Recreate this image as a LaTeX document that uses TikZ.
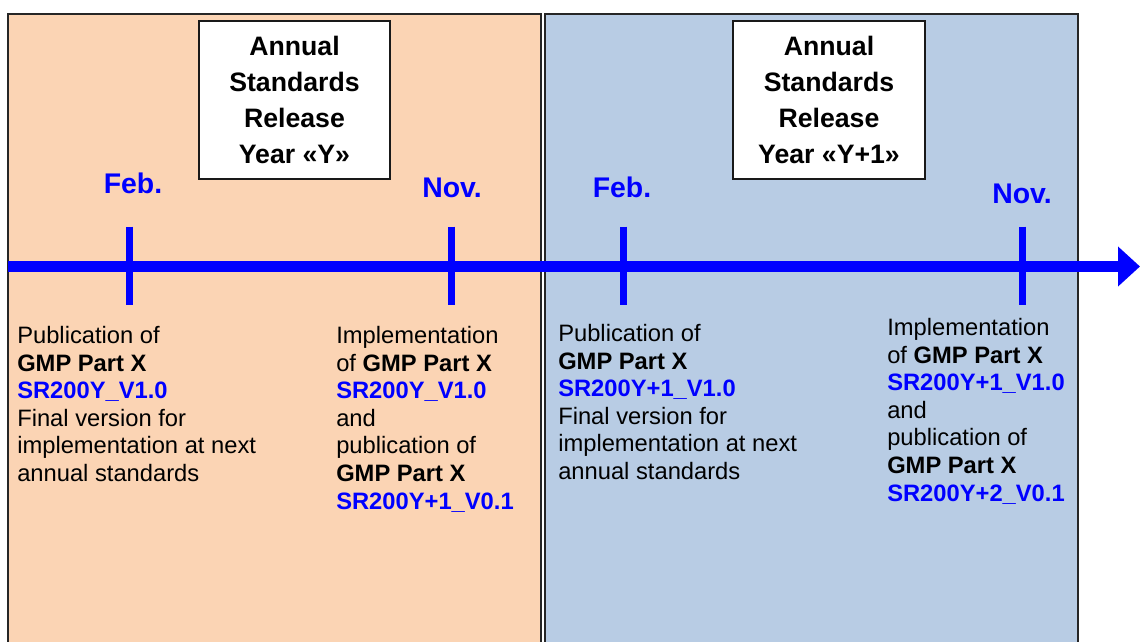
\documentclass[tikz,border=0pt]{standalone}
\usepackage{fontspec}
\setmainfont{Liberation Sans}
\usetikzlibrary{arrows.meta}
\definecolor{peach}{RGB}{251,212,180}
\definecolor{paleblue}{RGB}{184,204,228}
\definecolor{tblue}{RGB}{0,0,255}
\newcommand{\bl}[1]{\textcolor{tblue}{\textbf{#1}}}
\tikzset{
  panelborder/.style={draw=black!85, line width=1.5pt},
  titlebox/.style={draw=black!90, fill=white, line width=1.5pt, minimum width=143.5pt, minimum height=118pt, inner sep=0pt, align=center, font=\fontsize{20}{26.8}\selectfont\bfseries},
  month/.style={text=tblue, font=\fontsize{21.3}{24}\selectfont\bfseries, anchor=base, inner sep=0pt},
  body/.style={anchor=north west, inner sep=0pt, align=left, font=\fontsize{17.8}{20.7}\selectfont},
  tick/.style={draw=tblue, line width=5.25pt},
  timeline/.style={draw=tblue, line width=7.8pt, -{Triangle[length=16.5pt,width=29pt]}}
}
\begin{document}
\begin{tikzpicture}[x=0.75pt, y=-0.75pt]
\useasboundingbox (0,0) rectangle (1140,642);
% panels
\fill[peach] (8,14) rectangle (541,642);
\draw[panelborder] (8,642) -- (8,14) -- (541,14) -- (541,642);
\fill[paleblue] (545,14) rectangle (1078,642);
\draw[panelborder] (545,642) -- (545,14) -- (1078,14) -- (1078,642);
% title boxes
\node[titlebox] (t1) at (294.5,100) {Annual\\Standards\\Release\\Year «Y»};
\node[titlebox] (t2) at (829,100) {Annual\\Standards\\Release\\Year «Y+1»};
% timeline
\coordinate (ls) at (8,266.5);
\coordinate (le) at (1140,266.5);
\draw[timeline] (ls) -- (le);
% ticks
\coordinate (f1a) at (129,226.5); \coordinate (f1b) at (129,304.5);
\coordinate (n1a) at (451,226.5); \coordinate (n1b) at (451,304.5);
\coordinate (f2a) at (623,226.5); \coordinate (f2b) at (623,304.5);
\coordinate (n2a) at (1022,226.5); \coordinate (n2b) at (1022,304.5);
\draw[tick] (f1a) -- (f1b);
\draw[tick] (n1a) -- (n1b);
\draw[tick] (f2a) -- (f2b);
\draw[tick] (n2a) -- (n2b);
% month labels
\node[month] (feb1) at (133,193) {Feb.};
\node[month] (nov1) at (452,197) {Nov.};
\node[month] (feb2) at (622,197) {Feb.};
\node[month] (nov2) at (1022,204) {Nov.};
% body texts
\node[body] (b1) at (17,326) {Publication of\\\textbf{GMP Part X}\\\bl{SR200Y\_V1.0}\\Final version for\\implementation at next\\annual standards};
\node[body] (b2) at (336,326) {Implementation\\of \textbf{GMP Part X}\\\bl{SR200Y\_V1.0}\\and\\publication of\\\textbf{GMP Part X}\\\bl{SR200Y+1\_V0.1}};
\node[body] (b3) at (558,324) {Publication of\\\textbf{GMP Part X}\\\bl{SR200Y+1\_V1.0}\\Final version for\\implementation at next\\annual standards};
\node[body] (b4) at (887,318) {Implementation\\of \textbf{GMP Part X}\\\bl{SR200Y+1\_V1.0}\\and\\publication of\\\textbf{GMP Part X}\\\bl{SR200Y+2\_V0.1}};
\end{tikzpicture}
\end{document}
